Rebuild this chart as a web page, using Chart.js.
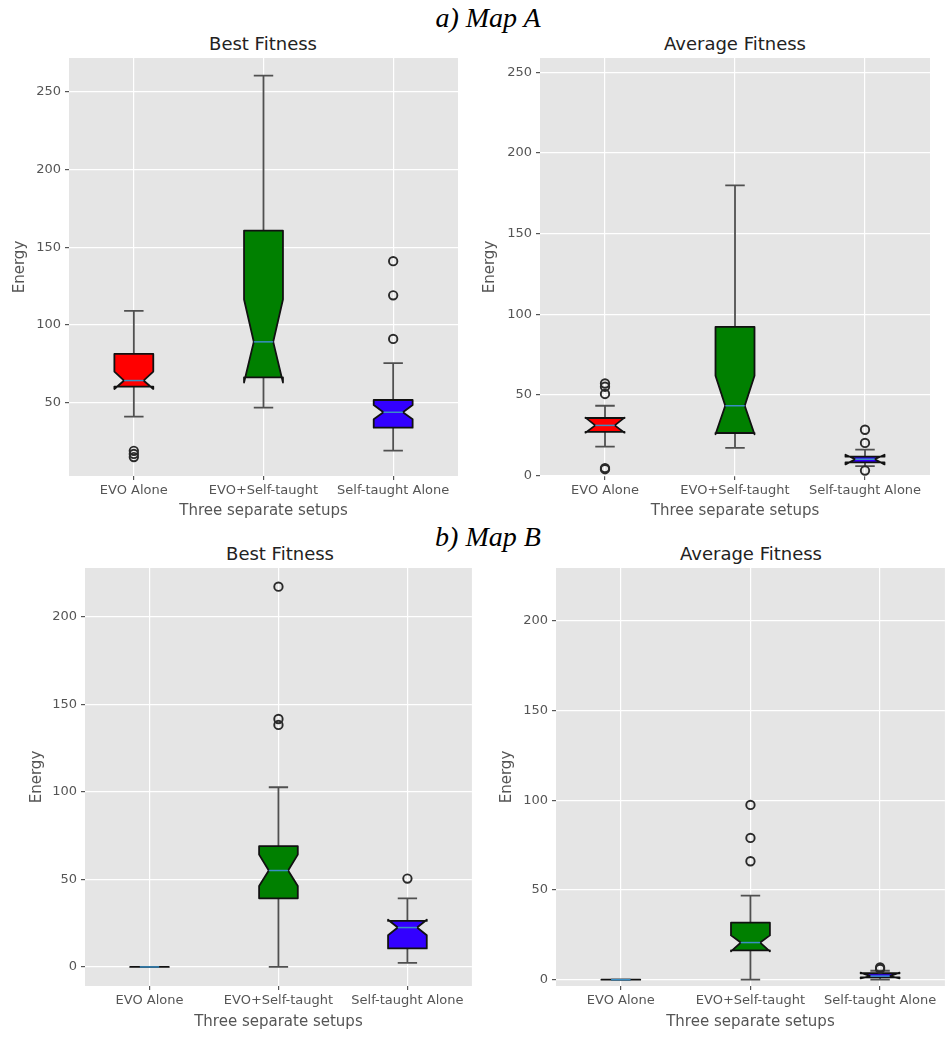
<!DOCTYPE html>
<html>
<head>
<meta charset="utf-8">
<script src="https://cdn.jsdelivr.net/npm/chart.js@4.4.1/dist/chart.umd.min.js"></script>
<style>
body{margin:0;background:#fff;width:951px;height:1037px;position:relative;overflow:hidden;font-family:"DejaVu Sans";}
canvas{position:absolute;}
.map{position:absolute;font-family:"Liberation Serif";font-style:italic;font-size:28px;color:#000;transform:translate(-50%,-50%);white-space:nowrap;}
.title{position:absolute;font-size:18px;color:#222;transform:translate(-50%,-50%);white-space:nowrap;}
</style>
</head>
<body>
<div class="map" style="left:488px;top:18px">a) Map A</div>
<div class="map" style="left:488px;top:537px">b) Map B</div>
<div class="title" style="left:263px;top:43px">Best Fitness</div>
<div class="title" style="left:735px;top:43px">Average Fitness</div>
<div class="title" style="left:280px;top:553px">Best Fitness</div>
<div class="title" style="left:751px;top:553px">Average Fitness</div>

<canvas id="aBest"></canvas>
<canvas id="aAvg"></canvas>
<canvas id="bBest"></canvas>
<canvas id="bAvg"></canvas>

<script>
// box plots

const setups = ["EVO Alone", "EVO+Self-taught", "Self-taught Alone"];
const fills = ["#ff0000", "#008000", "#3300ff"];

// Map A - Best Fitness
const aBestQ1 = [60.3, 66.2, 33.9];
const aBestMed = [64.2, 89.1, 43.8];
const aBestQ3 = [81.3, 160.7, 51.7];
const aBestNotchLo = [58.8, 62.9, 39.3];
const aBestNotchHi = [70, 116.3, 48.5];
const aBestWhiskLo = [41, 46.8, 19.1];
const aBestWhiskHi = [109, 260.4, 75.4];
const aBestOut = [[19, 17, 15], [], [141, 119, 91]];
const aBestTicks = [50, 100, 150, 200, 250];

// Map A - Average Fitness
const aAvgQ1 = [27, 26.3, 8];
const aAvgMed = [31, 43.2, 10];
const aAvgQ3 = [35.6, 92.1, 11.6];
const aAvgNotchLo = [26.5, 25.5, 6.8];
const aAvgNotchHi = [35.8, 61.8, 12.8];
const aAvgWhiskLo = [17.8, 17, 5.7];
const aAvgWhiskHi = [43.2, 179.9, 16];
const aAvgOut = [[57, 55, 50.5, 4.5, 3.8], [], [28.3, 20.1, 3]];
const aAvgTicks = [0, 50, 100, 150, 200, 250];

// Map B - Best Fitness
const bBestQ1 = [0, 39.2, 10.6];
const bBestMed = [0, 55.1, 22.5];
const bBestQ3 = [0, 69, 26.3];
const bBestNotchLo = [0, 46.2, 18.1];
const bBestNotchHi = [0, 64.2, 27];
const bBestWhiskLo = [0, 0, 2.3];
const bBestWhiskHi = [0, 102.7, 39.2];
const bBestOut = [[], [217.3, 141.7, 138.3], [50.5]];
const bBestTicks = [0, 50, 100, 150, 200];

// Map B - Average Fitness
const bAvgQ1 = [0, 16.3, 1.3];
const bAvgMed = [0, 20.7, 2];
const bAvgQ3 = [0, 31.8, 3.6];
const bAvgNotchLo = [0, 15.8, 0.8];
const bAvgNotchHi = [0, 24.7, 3.9];
const bAvgWhiskLo = [0, 0, 0];
const bAvgWhiskHi = [0, 46.9, 5];
const bAvgOut = [[], [97.4, 79, 66], [6.8, 6]];
const bAvgTicks = [0, 50, 100, 150, 200];


const boxWidth = 0.3;

const bgPlugin = {
  id: "bg",
  beforeDraw(chart){
    let a = chart.chartArea;
    let ctx = chart.ctx;
    ctx.save();
    ctx.fillStyle = "#e5e5e5";
    ctx.fillRect(a.left, a.top, a.right - a.left, a.bottom - a.top);
    ctx.restore();
  }
};

function makeBoxPlugin(s){
  return {
    id: "boxes",
    beforeDatasetsDraw(chart){
      let ctx = chart.ctx;
      let xs = chart.scales.x;
      let ys = chart.scales.y;
      let a = chart.chartArea;
      let py = v => ys.getPixelForValue(v);
      ctx.save();
      ctx.beginPath();
      ctx.rect(a.left, a.top, a.right - a.left, a.bottom - a.top);
      ctx.clip();
      for(let i = 0; i < s.q1.length; i++){
        let cx = xs.getPixelForValue(i + 1);
        let half = xs.getPixelForValue(i + 1 + boxWidth / 2) - cx;
        let l = cx - half, r = cx + half;
        let nl = cx - half / 2, nr = cx + half / 2;

        // whiskers + caps
        ctx.strokeStyle = "#505050";
        ctx.lineWidth = 1.8;
        ctx.beginPath();
        ctx.moveTo(cx, py(s.q1[i])); ctx.lineTo(cx, py(s.wLo[i]));
        ctx.moveTo(cx, py(s.q3[i])); ctx.lineTo(cx, py(s.wHi[i]));
        ctx.moveTo(nl, py(s.wLo[i])); ctx.lineTo(nr, py(s.wLo[i]));
        ctx.moveTo(nl, py(s.wHi[i])); ctx.lineTo(nr, py(s.wHi[i]));
        ctx.stroke();

        // notched box
        ctx.beginPath();
        ctx.moveTo(l, py(s.q1[i]));
        ctx.lineTo(r, py(s.q1[i]));
        ctx.lineTo(r, py(s.nLo[i]));
        ctx.lineTo(nr, py(s.med[i]));
        ctx.lineTo(r, py(s.nHi[i]));
        ctx.lineTo(r, py(s.q3[i]));
        ctx.lineTo(l, py(s.q3[i]));
        ctx.lineTo(l, py(s.nHi[i]));
        ctx.lineTo(nl, py(s.med[i]));
        ctx.lineTo(l, py(s.nLo[i]));
        ctx.closePath();
        ctx.fillStyle = fills[i];
        ctx.fill();
        ctx.strokeStyle = "#111";
        ctx.lineWidth = 1.8;
        ctx.lineJoin = "round";
        ctx.stroke();

        // median
        ctx.strokeStyle = "#3a8ec4";
        ctx.lineWidth = 1.5;
        ctx.beginPath();
        ctx.moveTo(nl, py(s.med[i]));
        ctx.lineTo(nr, py(s.med[i]));
        ctx.stroke();
      }
      ctx.restore();
    }
  };
}


function drawPanel(id, s, yMin, yMax, yTicks, lay){

  let canvas = document.getElementById(id);
  canvas.width = lay.w;
  canvas.height = lay.h;
  canvas.style.left = lay.left + "px";
  canvas.style.top = lay.top + "px";

  let points = [];
  s.out.forEach((list, i)=>{
    list.forEach(v=>{
      points.push({x: i + 1, y: v});
    });
  });

  let tickFont = {family: "DejaVu Sans", size: 13};
  let titleFont = {family: "DejaVu Sans", size: 15};

  new Chart(canvas, {
    type: "scatter",
    data: {
      datasets: [{
        data: points,
        pointRadius: 4.2,
        pointHoverRadius: 4.2,
        borderWidth: 1.9,
        borderColor: "#2a2a2a",
        backgroundColor: "rgba(0,0,0,0)"
      }]
    },
    options: {
      responsive: false,
      animation: false,
      events: [],
      layout: {padding: {left: 0, top: lay.padTop, right: lay.padRight, bottom: 0}},
      plugins: {
        legend: {display: false},
        tooltip: {enabled: false}
      },
      scales: {
        x: {
          type: "linear",
          min: 0.5,
          max: 3.5,
          afterBuildTicks: sc=>{ sc.ticks = [1, 2, 3].map(v=>({value: v})); },
          afterFit: sc=>{ sc.height = lay.xH; },
          ticks: {
            callback: v=>setups[Math.round(v) - 1],
            color: "#555",
            font: tickFont,
            padding: 3,
            autoSkip: false,
            maxRotation: 0
          },
          grid: {color: "#fff", lineWidth: 1.2, tickColor: "#555", tickLength: 4},
          border: {display: false},
          title: {
            display: true,
            text: "Three separate setups",
            color: "#555",
            font: titleFont,
            padding: {top: 0, bottom: lay.xTitlePad}
          }
        },
        y: {
          min: yMin,
          max: yMax,
          afterBuildTicks: sc=>{ sc.ticks = yTicks.map(v=>({value: v})); },
          afterFit: sc=>{ sc.width = lay.yW; },
          ticks: {color: "#555", font: tickFont, padding: 4},
          grid: {color: "#fff", lineWidth: 1.2, tickColor: "#555", tickLength: 4},
          border: {display: false},
          title: {
            display: true,
            text: "Energy",
            color: "#555",
            font: titleFont,
            padding: {top: lay.yTitlePad, bottom: 0}
          }
        }
      }
    },
    plugins: [bgPlugin, makeBoxPlugin(s)]
  });
}


drawPanel("aBest",
  {q1: aBestQ1, med: aBestMed, q3: aBestQ3, nLo: aBestNotchLo, nHi: aBestNotchHi, wLo: aBestWhiskLo, wHi: aBestWhiskHi, out: aBestOut},
  2.8, 271.7, aBestTicks,
  {left: 0, top: 44, w: 470, h: 486, padTop: 14, padRight: 12, yW: 69, xH: 54, xTitlePad: 10, yTitlePad: 11});

drawPanel("aAvg",
  {q1: aAvgQ1, med: aAvgMed, q3: aAvgQ3, nLo: aAvgNotchLo, nHi: aAvgNotchHi, wLo: aAvgWhiskLo, wHi: aAvgWhiskHi, out: aAvgOut},
  -0.4, 259, aAvgTicks,
  {left: 470, top: 44, w: 481, h: 486, padTop: 14, padRight: 21, yW: 70, xH: 54, xTitlePad: 10, yTitlePad: 11});

drawPanel("bBest",
  {q1: bBestQ1, med: bBestMed, q3: bBestQ3, nLo: bBestNotchLo, nHi: bBestNotchHi, wLo: bBestWhiskLo, wHi: bBestWhiskHi, out: bBestOut},
  -10.9, 228, bBestTicks,
  {left: 0, top: 554, w: 478, h: 483, padTop: 14, padRight: 2, yW: 85, xH: 51, xTitlePad: 6, yTitlePad: 28});

drawPanel("bAvg",
  {q1: bAvgQ1, med: bAvgMed, q3: bAvgQ3, nLo: bAvgNotchLo, nHi: bAvgNotchHi, wLo: bAvgWhiskLo, wHi: bAvgWhiskHi, out: bAvgOut},
  -3.5, 229.4, bAvgTicks,
  {left: 478, top: 554, w: 473, h: 483, padTop: 14, padRight: 5, yW: 78, xH: 51, xTitlePad: 6, yTitlePad: 20});

</script>
</body>
</html>
